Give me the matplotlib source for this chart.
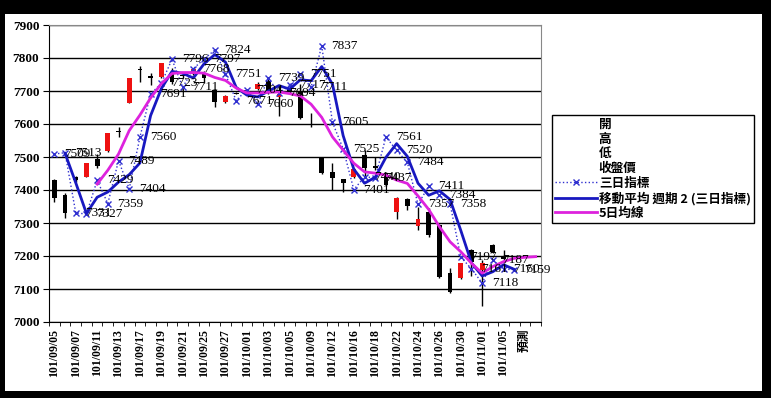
import numpy as np
import pandas as pd
import matplotlib
matplotlib.use("Agg")
import matplotlib.pyplot as plt
from matplotlib.lines import Line2D
from matplotlib.patches import Rectangle

plt.rcParams['font.family'] = ['Liberation Serif', 'Noto Sans CJK TC', 'DejaVu Sans']

# 日期 (每兩個顯示一個)
dates = ['101/09/05', '101/09/06', '101/09/07', '101/09/10', '101/09/11', '101/09/12',
         '101/09/13', '101/09/14', '101/09/17', '101/09/18', '101/09/19', '101/09/20',
         '101/09/21', '101/09/24', '101/09/25', '101/09/26', '101/09/27', '101/09/28',
         '101/10/01', '101/10/02', '101/10/03', '101/10/04', '101/10/05', '101/10/08',
         '101/10/09', '101/10/11', '101/10/12', '101/10/15', '101/10/16', '101/10/17',
         '101/10/18', '101/10/19', '101/10/22', '101/10/23', '101/10/24', '101/10/25',
         '101/10/26', '101/10/29', '101/10/30', '101/10/31', '101/11/01', '101/11/02',
         '101/11/05', '101/11/06', '預測', '']

# K線 開/高/低/收
opens = [7430, 7385, 7438, 7439, 7495, 7518, 7580, 7663, 7768, 7744, 7742, 7755,
         7750, 7752, 7755, 7703, 7667, 7695, 7702, 7707, 7730, 7683, 7710, 7700,
         7600, 7497, 7455, 7433, 7439, 7506, 7472, 7451, 7333, 7373, 7291, 7333,
         7294, 7148, 7133, 7218, 7158, 7233, 7198]
highs = [7432, 7391, 7442, 7482, 7510, 7573, 7591, 7739, 7776, 7755, 7786, 7770,
         7755, 7770, 7760, 7705, 7688, 7698, 7705, 7726, 7735, 7715, 7712, 7720,
         7633, 7500, 7482, 7433, 7467, 7521, 7500, 7455, 7378, 7376, 7348, 7345,
         7298, 7164, 7180, 7220, 7188, 7235, 7218]
lows = [7365, 7315, 7425, 7439, 7468, 7516, 7561, 7663, 7727, 7718, 7740, 7720,
        7740, 7748, 7725, 7652, 7663, 7690, 7698, 7704, 7690, 7625, 7690, 7615,
        7592, 7448, 7400, 7394, 7437, 7436, 7460, 7412, 7312, 7339, 7279, 7258,
        7133, 7088, 7131, 7138, 7050, 7209, 7179]
closes = [7376, 7330, 7430, 7482, 7472, 7572, 7575, 7739, 7765, 7740, 7785, 7728,
          7745, 7768, 7738, 7667, 7685, 7692, 7700, 7720, 7694, 7690, 7700, 7618,
          7597, 7452, 7436, 7421, 7465, 7467, 7468, 7415, 7376, 7352, 7312, 7264,
          7136, 7091, 7179, 7182, 7179, 7212, 7192]

# 三日指標
three_day = [7509, 7513, 7331, 7327, 7429, 7359, 7489, 7404, 7560, 7691, 7723, 7796,
             7711, 7768, 7797, 7824, 7751, 7671, 7704, 7660, 7739, 7694, 7717, 7751,
             7711, 7837, 7605, 7525, 7401, 7440, 7437, 7561, 7520, 7484, 7357, 7411,
             7384, 7358, 7197, 7161, 7118, 7187, 7160, 7159]

# 5日均線 (從第5筆開始)
ma5_start = 4
ma5 = [7418, 7460, 7509, 7580, 7627, 7679, 7722, 7753, 7756, 7756, 7754, 7741,
       7732, 7709, 7694, 7694, 7696, 7697, 7692, 7685, 7660, 7620, 7561, 7521,
       7481, 7455, 7451, 7445, 7430, 7420, 7382, 7341, 7289, 7243, 7213, 7178,
       7148, 7168, 7183, 7193, 7196, 7198]

legend_labels = ['開', '高', '低', '收盤價', '三日指標', '移動平均 週期 2 (三日指標)', '5日均線']

# 畫布
fig = plt.figure(figsize=(7.71, 3.98), dpi=100, facecolor='black')
fig.patches.append(Rectangle((5 / 771, 7 / 398), 757 / 771, 377 / 398,
                             transform=fig.transFigure, facecolor='white',
                             edgecolor='none', zorder=-10))
ax = fig.add_axes([49 / 771, 76 / 398, 492 / 771, 297 / 398])
ax.set_facecolor('white')

x = np.arange(len(dates))
xc = np.arange(len(opens))
o = np.array(opens)
c = np.array(closes)
up = c >= o
body_bottom = np.minimum(o, c)
body_h = np.maximum(np.abs(c - o), 2)

# K線
ax.vlines(xc, lows, highs, color='black', lw=1, zorder=3)
ax.bar(xc[up], body_h[up], 0.45, bottom=body_bottom[up], color='#EE1111', zorder=4)
ax.bar(xc[~up], body_h[~up], 0.45, bottom=body_bottom[~up], color='black', zorder=4)

# 三日指標 + 移動平均
xt = np.arange(len(three_day))
ax.plot(xt, three_day, ls=':', lw=1, color='#3030D0', marker='x', ms=5, mew=1, zorder=5)
ma2 = pd.Series(three_day).rolling(2).mean()
ax.plot(xt, ma2, color='#1818C0', lw=2, zorder=6)

# 5日均線
xm = np.arange(ma5_start, ma5_start + len(ma5))
ax.plot(xm, ma5, color='#DD22DD', lw=2, zorder=6)

# 數據標籤
for xi, v in zip(xt, three_day):
    ax.annotate(str(v), (xi, v), xytext=(7, 0), textcoords='offset points',
                ha='left', va='center', fontsize=9.5, zorder=7,
                family=['Liberation Serif'])

# 軸
ax.set_xlim(-0.5, len(dates) - 0.5)
ax.set_ylim(7000, 7900)
ax.set_yticks(np.arange(7000, 7901, 100))
ax.grid(axis='y', color='black', lw=1)
ax.set_axisbelow(True)
ax.set_xticks(x[::2])
ax.set_xticklabels(dates[::2], rotation=90, fontsize=8.5, fontweight='bold')
ax.set_xticks(np.arange(-0.5, len(dates), 1), minor=True)
ax.tick_params(axis='x', which='major', length=0, pad=5)
ax.tick_params(axis='x', which='minor', length=3, color='black')
ax.tick_params(axis='y', length=4, labelsize=9.5, pad=3)
for lab in ax.get_yticklabels():
    lab.set_fontweight('bold')
for s in ['top', 'right']:
    ax.spines[s].set_color('#888888')
for s in ['left', 'bottom']:
    ax.spines[s].set_color('black')

# 圖例
handles = [Line2D([], [], color='none') for _ in range(4)]
handles += [Line2D([], [], ls=':', lw=1, color='#3030D0', marker='x', ms=5),
            Line2D([], [], color='#1818C0', lw=2),
            Line2D([], [], color='#DD22DD', lw=2)]
leg = fig.legend(handles, legend_labels, loc='upper left',
                 bbox_to_anchor=(552 / 771, 1 - 115 / 398),
                 prop={'family': ['Noto Sans CJK TC', 'DejaVu Sans'], 'size': 9.1},
                 frameon=True, fancybox=False, edgecolor='black', framealpha=1,
                 handlelength=3.3, handletextpad=0.15, labelspacing=0.13,
                 borderpad=0.25, borderaxespad=0)
leg.get_frame().set_linewidth(1)
for t in leg.get_texts():
    t.set_fontweight('bold')

fig.savefig('out.png', dpi=100, facecolor='black')
